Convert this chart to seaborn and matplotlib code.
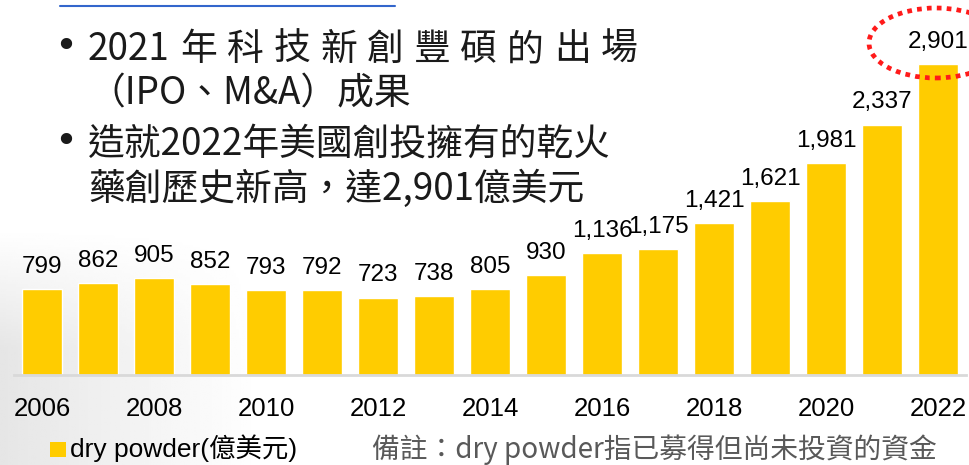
import matplotlib
matplotlib.use("Agg")
import matplotlib.pyplot as plt
from matplotlib.patches import Ellipse, Rectangle
from matplotlib.lines import Line2D
import numpy as np
import pandas as pd
import seaborn as sns

# data
years = ['2006', '2007', '2008', '2009', '2010', '2011', '2012', '2013', '2014',
         '2015', '2016', '2017', '2018', '2019', '2020', '2021', '2022']
dry_powder = [799, 862, 905, 852, 793, 792, 723, 738, 805,
              930, 1136, 1175, 1421, 1621, 1981, 2337, 2901]
tick_years = ['2006', '2008', '2010', '2012', '2014', '2016', '2018', '2020', '2022']

bullet_lines = [
    '2021 年 科 技 新 創 豐 碩 的 出 場',
    '（IPO、M&A）成果',
    '造就2022年美國創投擁有的乾火',
    '藥創歷史新高，達2,901億美元',
]
legend_label = 'dry powder(億美元)'
note_text = '備註：dry powder指已募得但尚未投資的資金'

BAR = '#FFCC00'
W, H = 969, 465

sns.set_theme(style='white')
plt.rcParams['font.family'] = ['Liberation Sans', 'Noto Sans CJK TC', 'DejaVu Sans']

df = pd.DataFrame({'year': years, 'value': dry_powder})

fig = plt.figure(figsize=(W / 100, H / 100), dpi=100)
fig.patch.set_facecolor('white')


def fx(px):
    return px / W


def fy(py):
    return 1 - py / H


# faint grey swoosh in the lower left corner
bg = fig.add_axes([0, 0, 1, 1], zorder=0)
xx, yy = np.meshgrid(np.linspace(0, W, 400), np.linspace(0, H, 200))
shade = np.clip(1 - xx / 260, 0, 1) * np.clip((yy - 230) / 120, 0, 1) * 0.10
bg.imshow(1 - shade, cmap='gray', vmin=0, vmax=1, extent=[0, W, H, 0], aspect='auto')
bg.set_xlim(0, W)
bg.set_ylim(H, 0)
bg.axis('off')

ax = fig.add_axes([fx(14), fy(375), fx(966 - 14), 375 / H], zorder=1)
ax.patch.set_alpha(0)
sns.barplot(data=df, x='year', y='value', color=BAR, saturation=1, width=0.72, ax=ax)
ax.set_xlim(-0.5, 16.5)
ax.set_ylim(0, 3500)

for i, v in enumerate(dry_powder):
    ax.annotate(f'{v:,}', (i, v), xytext=(0, 8), textcoords='offset points',
                ha='center', va='bottom', fontsize=17.5, color='black')

ax.set_xticks([years.index(y) for y in tick_years])
ax.set_xticklabels(tick_years, fontsize=18.5, color='black')
ax.tick_params(axis='x', length=0, pad=16)
ax.set_yticks([])
ax.set_xlabel('')
ax.set_ylabel('')
for s in ['top', 'right', 'left']:
    ax.spines[s].set_visible(False)
ax.spines['bottom'].set_color('#D9D9D9')
ax.spines['bottom'].set_linewidth(2)

# bullet text block
cjk = ['Noto Sans CJK TC', 'DejaVu Sans']
baselines = [60, 104, 155, 200]
renderer = fig.canvas.get_renderer()

# first line is spread out word by word
x = 88
for tok in bullet_lines[0].split(' '):
    t = fig.text(fx(x), fy(baselines[0]), tok, fontsize=26.5, family=cjk,
                 color='#1a1a1a', ha='left', va='baseline')
    x += t.get_window_extent(renderer).width + 10
for txt, b in zip(bullet_lines[1:], baselines[1:]):
    fig.text(fx(88), fy(b), txt, fontsize=26.5, family=cjk, color='#1a1a1a',
             ha='left', va='baseline')
for b in (baselines[0], baselines[2]):
    fig.text(fx(66), fy(b - 13), '•', fontsize=28, family='DejaVu Sans',
             color='#1a1a1a', ha='center', va='center')

# cut-off hyperlink underline at the very top
fig.add_artist(Line2D([fx(60), fx(395)], [fy(6), fy(6)], color='#3366CC', lw=1.5))

# red dotted ellipse around the 2022 value
ell = Ellipse((fx(936), fy(43)), fx(134), 70 / H, transform=fig.transFigure,
              fill=False, edgecolor='#FF1A1A', lw=3.4, linestyle=(0, (1, 1.1)), zorder=5)
fig.add_artist(ell)

# legend and note
fig.add_artist(Rectangle((fx(50), fy(457)), fx(16), 15 / H, transform=fig.transFigure,
                         facecolor=BAR, edgecolor='none'))
fig.text(fx(70), fy(448), legend_label, fontsize=19, color='black',
         ha='left', va='center')
fig.text(fx(372), fy(450), note_text, fontsize=20, family=cjk, color='#595959',
         ha='left', va='center')

fig.savefig('out.png', dpi=100, facecolor='white')
